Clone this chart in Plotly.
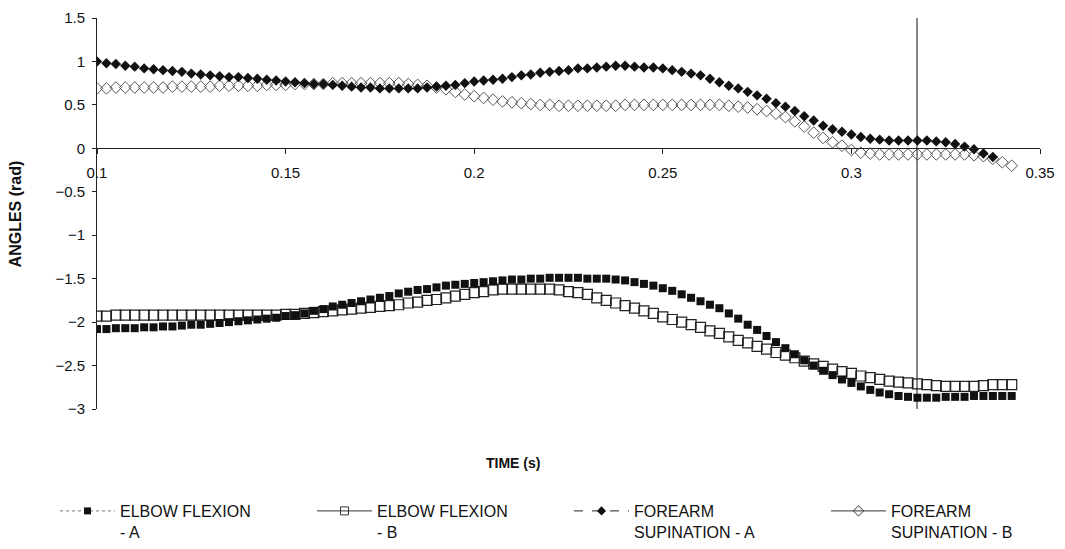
import plotly.graph_objects as go

# ---- data ----
T0 = 0.1
DT = 0.0025

elbow_a = [
    -2.08, -2.08, -2.07, -2.07, -2.07, -2.06, -2.06, -2.05, -2.05, -2.04,
    -2.03, -2.03, -2.02, -2.01, -2.00, -1.99, -1.98, -1.97, -1.96, -1.95,
    -1.93, -1.92, -1.90, -1.87, -1.85, -1.82, -1.80, -1.78, -1.76, -1.74,
    -1.72, -1.70, -1.67, -1.65, -1.63, -1.62, -1.60, -1.58, -1.57, -1.56,
    -1.55, -1.54, -1.53, -1.52, -1.51, -1.51, -1.50, -1.50, -1.49, -1.49,
    -1.49, -1.49, -1.50, -1.50, -1.50, -1.51, -1.52, -1.54, -1.56, -1.58,
    -1.61, -1.64, -1.68, -1.72, -1.76, -1.80,
    -1.84, -1.90, -1.96, -2.03, -2.09, -2.16, -2.23, -2.30, -2.37, -2.44,
    -2.50, -2.56, -2.61, -2.66, -2.70, -2.74, -2.78, -2.81, -2.83, -2.85,
    -2.86, -2.87, -2.87, -2.87, -2.86, -2.86, -2.86, -2.85, -2.85, -2.85,
    -2.85, -2.85,
]

elbow_b = [
    -1.93, -1.93, -1.92, -1.92, -1.92, -1.92, -1.92, -1.92, -1.92, -1.92,
    -1.92, -1.92, -1.92, -1.92, -1.92, -1.92, -1.92, -1.92, -1.92, -1.92,
    -1.91, -1.91, -1.90, -1.89, -1.88, -1.87, -1.86, -1.85, -1.84, -1.83,
    -1.82, -1.81, -1.80, -1.78, -1.77, -1.75, -1.74, -1.72, -1.70, -1.68,
    -1.66, -1.65, -1.63, -1.62, -1.62, -1.62, -1.62, -1.62, -1.62, -1.63,
    -1.65, -1.66, -1.68, -1.72, -1.75, -1.78, -1.81, -1.84, -1.87, -1.90,
    -1.94, -1.97, -2.00, -2.03, -2.06, -2.10,
    -2.13, -2.17, -2.21, -2.24, -2.28, -2.31, -2.35, -2.38, -2.41, -2.45,
    -2.48, -2.51, -2.54, -2.57, -2.59, -2.62, -2.64, -2.66, -2.68, -2.69,
    -2.70, -2.71, -2.72, -2.73, -2.74, -2.74, -2.74, -2.74, -2.73, -2.72,
    -2.72, -2.72,
]

forearm_a = [
    1.00, 0.98, 0.97, 0.95, 0.94, 0.92, 0.91, 0.90, 0.89, 0.88,
    0.86, 0.85, 0.84, 0.83, 0.82, 0.82, 0.81, 0.80, 0.79, 0.78,
    0.77, 0.76, 0.75, 0.74, 0.74, 0.73, 0.72, 0.71, 0.70, 0.70,
    0.69, 0.69, 0.69, 0.69, 0.69, 0.70, 0.71, 0.72, 0.73, 0.75,
    0.77, 0.78, 0.79, 0.80, 0.82, 0.84, 0.85, 0.87, 0.88, 0.89,
    0.90, 0.92, 0.92, 0.93, 0.94, 0.95, 0.95, 0.94, 0.93, 0.93,
    0.92, 0.90, 0.88, 0.86, 0.84, 0.80, 0.76, 0.72, 0.69, 0.65,
    0.61, 0.57, 0.52, 0.48, 0.43, 0.37, 0.32, 0.26, 0.22, 0.19,
    0.16, 0.13, 0.11, 0.10, 0.09, 0.09, 0.09, 0.09, 0.09, 0.08,
    0.07, 0.05, 0.02, -0.01, -0.06, -0.10,
]

forearm_b = [
    0.69, 0.69, 0.70, 0.70, 0.70, 0.70, 0.70, 0.70, 0.71, 0.71,
    0.71, 0.71, 0.71, 0.72, 0.72, 0.72, 0.72, 0.72, 0.73, 0.73,
    0.73, 0.74, 0.74, 0.74, 0.74, 0.75, 0.75, 0.75, 0.75, 0.75,
    0.75, 0.75, 0.75, 0.74, 0.73, 0.72, 0.70, 0.68, 0.65, 0.62,
    0.60, 0.58, 0.56, 0.54, 0.53, 0.52, 0.51, 0.50, 0.50, 0.49,
    0.49, 0.49, 0.49, 0.49, 0.49, 0.49, 0.50, 0.50, 0.50, 0.50,
    0.50, 0.50, 0.50, 0.50, 0.50, 0.50, 0.50, 0.49, 0.48, 0.47,
    0.45, 0.43, 0.40, 0.36, 0.31, 0.25, 0.18, 0.12, 0.07, 0.03,
    -0.02, -0.05, -0.06, -0.07, -0.07, -0.07, -0.07, -0.07, -0.07, -0.07,
    -0.07, -0.07, -0.07, -0.08, -0.09, -0.12, -0.16, -0.20,
]

series_names = [
    "ELBOW FLEXION<br>- A",
    "ELBOW FLEXION<br>- B",
    "FOREARM<br>SUPINATION - A",
    "FOREARM<br>SUPINATION - B",
]

x_ticks = [0.1, 0.15, 0.2, 0.25, 0.3, 0.35]
y_ticks = [1.5, 1, 0.5, 0, -0.5, -1, -1.5, -2, -2.5, -3]
marker_time = 0.3174


def times(values):
    return [round(T0 + i * DT, 4) for i in range(len(values))]


FONT = "Arial, 'Liberation Sans', sans-serif"

fig = go.Figure()

# drawn series (markers only)
fig.add_trace(go.Scatter(x=times(elbow_b), y=elbow_b, mode="markers", showlegend=False,
                         marker=dict(symbol="square-open", size=10, color="#222",
                                     line=dict(width=1.2, color="#222"))))
fig.add_trace(go.Scatter(x=times(elbow_a), y=elbow_a, mode="markers", showlegend=False,
                         marker=dict(symbol="square", size=8, color="#111")))
fig.add_trace(go.Scatter(x=times(forearm_b), y=forearm_b, mode="markers", showlegend=False,
                         marker=dict(symbol="diamond-open", size=9, color="#555",
                                     line=dict(width=1, color="#555"))))
fig.add_trace(go.Scatter(x=times(forearm_a), y=forearm_a, mode="markers", showlegend=False,
                         marker=dict(symbol="diamond", size=8, color="#111")))

# legend entries (line + marker look of the original legend)
legend_styles = [
    dict(line=dict(color="#777", width=1, dash="dot"),
         marker=dict(symbol="square", size=7, color="#111")),
    dict(line=dict(color="#333", width=1),
         marker=dict(symbol="square-open", size=8, color="#333", line=dict(width=1, color="#333"))),
    dict(line=dict(color="#222", width=1, dash="dash"),
         marker=dict(symbol="diamond", size=7, color="#111")),
    dict(line=dict(color="#333", width=1),
         marker=dict(symbol="diamond-open", size=8, color="#333", line=dict(width=1, color="#333"))),
]
for name, st in zip(series_names, legend_styles):
    fig.add_trace(go.Scatter(x=[None], y=[None], mode="lines+markers", name=name, **st))

# vertical reference line
fig.add_shape(type="line", xref="x", yref="y", x0=marker_time, x1=marker_time,
              y0=-3.05, y1=1.5, line=dict(color="#111", width=1))

fig.update_layout(
    width=1065, height=549,
    margin=dict(l=97, r=25, t=18, b=140, autoexpand=False),
    paper_bgcolor="white", plot_bgcolor="white",
    font=dict(family=FONT, color="#111"),
    showlegend=True,
    legend=dict(orientation="h", xref="paper", yref="paper",
                x=(55 - 97) / 943, y=-(494 - 409) / 391, xanchor="left", yanchor="top",
                font=dict(family=FONT, size=16, color="#111"),
                itemwidth=55,
                entrywidth=187, entrywidthmode="pixels", valign="top",
                traceorder="normal", itemclick=False),
    xaxis=dict(range=[0.1, 0.35], tickvals=x_ticks, ticktext=[str(v) for v in x_ticks],
               anchor="free", position=3 / 4.5, showline=True, linecolor="#222", linewidth=1,
               ticks="outside", ticklen=5, tickcolor="#222", showgrid=False, zeroline=False,
               tickfont=dict(family=FONT, size=15, color="#111"), ticklabelstandoff=6),
    yaxis=dict(range=[-3, 1.5], tickvals=y_ticks, showline=True, linecolor="#222", linewidth=1,
               ticks="outside", ticklen=4, tickcolor="#222", showgrid=False, zeroline=False,
               tickfont=dict(family=FONT, size=15, color="#111"), ticklabelstandoff=4),
    annotations=[
        dict(text="<b>TIME (s)</b>", xref="paper", yref="paper", x=0.441, y=-0.138,
             xanchor="center", yanchor="middle", showarrow=False,
             font=dict(family=FONT, size=14, color="#111")),
        dict(text="<b>ANGLES (rad)</b>", xref="paper", yref="paper", x=-0.086, y=0.5,
             xanchor="center", yanchor="middle", textangle=-90, showarrow=False,
             font=dict(family=FONT, size=16, color="#111")),
    ],
)

fig.write_html("out.html")
